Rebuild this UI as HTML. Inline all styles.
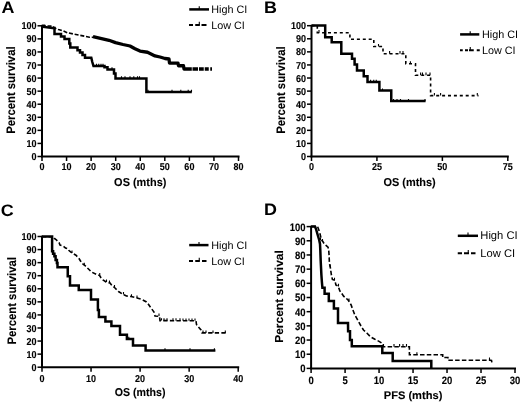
<!DOCTYPE html><html><head><meta charset="utf-8"><style>
html,body{margin:0;padding:0;background:#fff;}svg{display:block;will-change:transform;text-rendering:geometricPrecision;filter:blur(0.35px);}
text{font-family:"Liberation Sans", sans-serif;fill:#000;}
.tk{font-weight:bold;stroke:#000;stroke-width:0.12px;}
.ttl{font-weight:bold;stroke:#000;stroke-width:0.1px;}
.let{font-size:16.6px;font-weight:bold;}
.lg{font-size:10.8px;}
</style></head><body>
<svg width="520" height="402" viewBox="0 0 520 402">
<rect width="520" height="402" fill="#fff"/>
<line x1="42.00" y1="25.00" x2="42.00" y2="157.30" stroke="#000" stroke-width="2.0"/>
<line x1="41.00" y1="156.50" x2="239.50" y2="156.50" stroke="#000" stroke-width="2.0"/>
<line x1="37.50" y1="156.50" x2="42.00" y2="156.50" stroke="#000" stroke-width="1.5"/>
<text transform="translate(36.40,160.10) scale(0.9,1)" text-anchor="end" class="tk" font-size="10">0</text>
<line x1="37.50" y1="143.43" x2="42.00" y2="143.43" stroke="#000" stroke-width="1.5"/>
<text transform="translate(36.40,147.03) scale(0.9,1)" text-anchor="end" class="tk" font-size="10">10</text>
<line x1="37.50" y1="130.36" x2="42.00" y2="130.36" stroke="#000" stroke-width="1.5"/>
<text transform="translate(36.40,133.96) scale(0.9,1)" text-anchor="end" class="tk" font-size="10">20</text>
<line x1="37.50" y1="117.29" x2="42.00" y2="117.29" stroke="#000" stroke-width="1.5"/>
<text transform="translate(36.40,120.89) scale(0.9,1)" text-anchor="end" class="tk" font-size="10">30</text>
<line x1="37.50" y1="104.22" x2="42.00" y2="104.22" stroke="#000" stroke-width="1.5"/>
<text transform="translate(36.40,107.82) scale(0.9,1)" text-anchor="end" class="tk" font-size="10">40</text>
<line x1="37.50" y1="91.15" x2="42.00" y2="91.15" stroke="#000" stroke-width="1.5"/>
<text transform="translate(36.40,94.75) scale(0.9,1)" text-anchor="end" class="tk" font-size="10">50</text>
<line x1="37.50" y1="78.08" x2="42.00" y2="78.08" stroke="#000" stroke-width="1.5"/>
<text transform="translate(36.40,81.68) scale(0.9,1)" text-anchor="end" class="tk" font-size="10">60</text>
<line x1="37.50" y1="65.01" x2="42.00" y2="65.01" stroke="#000" stroke-width="1.5"/>
<text transform="translate(36.40,68.61) scale(0.9,1)" text-anchor="end" class="tk" font-size="10">70</text>
<line x1="37.50" y1="51.94" x2="42.00" y2="51.94" stroke="#000" stroke-width="1.5"/>
<text transform="translate(36.40,55.54) scale(0.9,1)" text-anchor="end" class="tk" font-size="10">80</text>
<line x1="37.50" y1="38.87" x2="42.00" y2="38.87" stroke="#000" stroke-width="1.5"/>
<text transform="translate(36.40,42.47) scale(0.9,1)" text-anchor="end" class="tk" font-size="10">90</text>
<line x1="37.50" y1="25.80" x2="42.00" y2="25.80" stroke="#000" stroke-width="1.5"/>
<text transform="translate(36.40,29.40) scale(0.9,1)" text-anchor="end" class="tk" font-size="10">100</text>
<line x1="42.00" y1="156.50" x2="42.00" y2="161.00" stroke="#000" stroke-width="1.5"/>
<text transform="translate(42.00,170.40) scale(0.9,1)" text-anchor="middle" class="tk" font-size="10">0</text>
<line x1="66.56" y1="156.50" x2="66.56" y2="161.00" stroke="#000" stroke-width="1.5"/>
<text transform="translate(66.56,170.40) scale(0.9,1)" text-anchor="middle" class="tk" font-size="10">10</text>
<line x1="91.12" y1="156.50" x2="91.12" y2="161.00" stroke="#000" stroke-width="1.5"/>
<text transform="translate(91.12,170.40) scale(0.9,1)" text-anchor="middle" class="tk" font-size="10">20</text>
<line x1="115.69" y1="156.50" x2="115.69" y2="161.00" stroke="#000" stroke-width="1.5"/>
<text transform="translate(115.69,170.40) scale(0.9,1)" text-anchor="middle" class="tk" font-size="10">30</text>
<line x1="140.25" y1="156.50" x2="140.25" y2="161.00" stroke="#000" stroke-width="1.5"/>
<text transform="translate(140.25,170.40) scale(0.9,1)" text-anchor="middle" class="tk" font-size="10">40</text>
<line x1="164.81" y1="156.50" x2="164.81" y2="161.00" stroke="#000" stroke-width="1.5"/>
<text transform="translate(164.81,170.40) scale(0.9,1)" text-anchor="middle" class="tk" font-size="10">50</text>
<line x1="189.38" y1="156.50" x2="189.38" y2="161.00" stroke="#000" stroke-width="1.5"/>
<text transform="translate(189.38,170.40) scale(0.9,1)" text-anchor="middle" class="tk" font-size="10">60</text>
<line x1="213.94" y1="156.50" x2="213.94" y2="161.00" stroke="#000" stroke-width="1.5"/>
<text transform="translate(213.94,170.40) scale(0.9,1)" text-anchor="middle" class="tk" font-size="10">70</text>
<line x1="238.50" y1="156.50" x2="238.50" y2="161.00" stroke="#000" stroke-width="1.5"/>
<text transform="translate(238.50,170.40) scale(0.9,1)" text-anchor="middle" class="tk" font-size="10">80</text>
<text transform="translate(1.4,12.8) scale(1.08,1)" class="let">A</text>
<text transform="translate(15.40,90.15) rotate(-90) scale(0.92,1)" text-anchor="middle" class="ttl" font-size="12.3">Percent survival</text>
<text transform="translate(140.25,185.70) scale(0.96,1)" text-anchor="middle" class="ttl" font-size="11.4">OS (mths)</text>
<line x1="189.25" y1="9.4" x2="209" y2="9.4" stroke="#000" stroke-width="2.5"/>
<line x1="199.25" y1="6.2" x2="199.25" y2="9.4" stroke="#000" stroke-width="1.1"/>
<text x="211.2" y="12.90" class="lg" style="font-size:10.8px">High CI</text>
<path d="M189,25H193M195.25,25H199.75M201.5,25H206.5" stroke="#000" stroke-width="1.9" fill="none"/>
<line x1="199.3" y1="21.7" x2="199.3" y2="25.5" stroke="#000" stroke-width="1.1"/>
<text x="211.2" y="28.60" class="lg" style="font-size:10.8px">Low CI</text>
<line x1="311.50" y1="24.90" x2="311.50" y2="157.30" stroke="#000" stroke-width="2.0"/>
<line x1="310.50" y1="156.50" x2="508.80" y2="156.50" stroke="#000" stroke-width="2.0"/>
<line x1="307.00" y1="156.50" x2="311.50" y2="156.50" stroke="#000" stroke-width="1.5"/>
<text transform="translate(305.90,160.10) scale(0.9,1)" text-anchor="end" class="tk" font-size="10">0</text>
<line x1="307.00" y1="143.42" x2="311.50" y2="143.42" stroke="#000" stroke-width="1.5"/>
<text transform="translate(305.90,147.02) scale(0.9,1)" text-anchor="end" class="tk" font-size="10">10</text>
<line x1="307.00" y1="130.34" x2="311.50" y2="130.34" stroke="#000" stroke-width="1.5"/>
<text transform="translate(305.90,133.94) scale(0.9,1)" text-anchor="end" class="tk" font-size="10">20</text>
<line x1="307.00" y1="117.26" x2="311.50" y2="117.26" stroke="#000" stroke-width="1.5"/>
<text transform="translate(305.90,120.86) scale(0.9,1)" text-anchor="end" class="tk" font-size="10">30</text>
<line x1="307.00" y1="104.18" x2="311.50" y2="104.18" stroke="#000" stroke-width="1.5"/>
<text transform="translate(305.90,107.78) scale(0.9,1)" text-anchor="end" class="tk" font-size="10">40</text>
<line x1="307.00" y1="91.10" x2="311.50" y2="91.10" stroke="#000" stroke-width="1.5"/>
<text transform="translate(305.90,94.70) scale(0.9,1)" text-anchor="end" class="tk" font-size="10">50</text>
<line x1="307.00" y1="78.02" x2="311.50" y2="78.02" stroke="#000" stroke-width="1.5"/>
<text transform="translate(305.90,81.62) scale(0.9,1)" text-anchor="end" class="tk" font-size="10">60</text>
<line x1="307.00" y1="64.94" x2="311.50" y2="64.94" stroke="#000" stroke-width="1.5"/>
<text transform="translate(305.90,68.54) scale(0.9,1)" text-anchor="end" class="tk" font-size="10">70</text>
<line x1="307.00" y1="51.86" x2="311.50" y2="51.86" stroke="#000" stroke-width="1.5"/>
<text transform="translate(305.90,55.46) scale(0.9,1)" text-anchor="end" class="tk" font-size="10">80</text>
<line x1="307.00" y1="38.78" x2="311.50" y2="38.78" stroke="#000" stroke-width="1.5"/>
<text transform="translate(305.90,42.38) scale(0.9,1)" text-anchor="end" class="tk" font-size="10">90</text>
<line x1="307.00" y1="25.70" x2="311.50" y2="25.70" stroke="#000" stroke-width="1.5"/>
<text transform="translate(305.90,29.30) scale(0.9,1)" text-anchor="end" class="tk" font-size="10">100</text>
<line x1="311.50" y1="156.50" x2="311.50" y2="161.00" stroke="#000" stroke-width="1.5"/>
<text transform="translate(311.50,170.40) scale(0.9,1)" text-anchor="middle" class="tk" font-size="10">0</text>
<line x1="376.93" y1="156.50" x2="376.93" y2="161.00" stroke="#000" stroke-width="1.5"/>
<text transform="translate(376.93,170.40) scale(0.9,1)" text-anchor="middle" class="tk" font-size="10">25</text>
<line x1="442.37" y1="156.50" x2="442.37" y2="161.00" stroke="#000" stroke-width="1.5"/>
<text transform="translate(442.37,170.40) scale(0.9,1)" text-anchor="middle" class="tk" font-size="10">50</text>
<line x1="507.80" y1="156.50" x2="507.80" y2="161.00" stroke="#000" stroke-width="1.5"/>
<text transform="translate(507.80,170.40) scale(0.9,1)" text-anchor="middle" class="tk" font-size="10">75</text>
<text transform="translate(264,13) scale(1.08,1)" class="let">B</text>
<text transform="translate(285.30,90.10) rotate(-90) scale(0.92,1)" text-anchor="middle" class="ttl" font-size="12.3">Percent survival</text>
<text transform="translate(409.65,185.70) scale(0.96,1)" text-anchor="middle" class="ttl" font-size="11.4">OS (mths)</text>
<line x1="460.1" y1="34.4" x2="479.3" y2="34.4" stroke="#000" stroke-width="2.5"/>
<line x1="470.2" y1="31.2" x2="470.2" y2="34.4" stroke="#000" stroke-width="1.1"/>
<text x="482.0" y="37.90" class="lg" style="font-size:10.8px">High CI</text>
<path d="M460,50.3H462.75M465,50.3H468M469,50.3H473.75M476.75,50.3H479.75" stroke="#000" stroke-width="1.9" fill="none"/>
<line x1="470.25" y1="47.0" x2="470.25" y2="50.8" stroke="#000" stroke-width="1.1"/>
<text x="482.0" y="53.90" class="lg" style="font-size:10.8px">Low CI</text>
<line x1="42.00" y1="235.70" x2="42.00" y2="368.00" stroke="#000" stroke-width="2.0"/>
<line x1="41.00" y1="367.20" x2="239.20" y2="367.20" stroke="#000" stroke-width="2.0"/>
<line x1="37.50" y1="367.20" x2="42.00" y2="367.20" stroke="#000" stroke-width="1.5"/>
<text transform="translate(36.40,370.80) scale(0.9,1)" text-anchor="end" class="tk" font-size="10">0</text>
<line x1="37.50" y1="354.13" x2="42.00" y2="354.13" stroke="#000" stroke-width="1.5"/>
<text transform="translate(36.40,357.73) scale(0.9,1)" text-anchor="end" class="tk" font-size="10">10</text>
<line x1="37.50" y1="341.06" x2="42.00" y2="341.06" stroke="#000" stroke-width="1.5"/>
<text transform="translate(36.40,344.66) scale(0.9,1)" text-anchor="end" class="tk" font-size="10">20</text>
<line x1="37.50" y1="327.99" x2="42.00" y2="327.99" stroke="#000" stroke-width="1.5"/>
<text transform="translate(36.40,331.59) scale(0.9,1)" text-anchor="end" class="tk" font-size="10">30</text>
<line x1="37.50" y1="314.92" x2="42.00" y2="314.92" stroke="#000" stroke-width="1.5"/>
<text transform="translate(36.40,318.52) scale(0.9,1)" text-anchor="end" class="tk" font-size="10">40</text>
<line x1="37.50" y1="301.85" x2="42.00" y2="301.85" stroke="#000" stroke-width="1.5"/>
<text transform="translate(36.40,305.45) scale(0.9,1)" text-anchor="end" class="tk" font-size="10">50</text>
<line x1="37.50" y1="288.78" x2="42.00" y2="288.78" stroke="#000" stroke-width="1.5"/>
<text transform="translate(36.40,292.38) scale(0.9,1)" text-anchor="end" class="tk" font-size="10">60</text>
<line x1="37.50" y1="275.71" x2="42.00" y2="275.71" stroke="#000" stroke-width="1.5"/>
<text transform="translate(36.40,279.31) scale(0.9,1)" text-anchor="end" class="tk" font-size="10">70</text>
<line x1="37.50" y1="262.64" x2="42.00" y2="262.64" stroke="#000" stroke-width="1.5"/>
<text transform="translate(36.40,266.24) scale(0.9,1)" text-anchor="end" class="tk" font-size="10">80</text>
<line x1="37.50" y1="249.57" x2="42.00" y2="249.57" stroke="#000" stroke-width="1.5"/>
<text transform="translate(36.40,253.17) scale(0.9,1)" text-anchor="end" class="tk" font-size="10">90</text>
<line x1="37.50" y1="236.50" x2="42.00" y2="236.50" stroke="#000" stroke-width="1.5"/>
<text transform="translate(36.40,240.10) scale(0.9,1)" text-anchor="end" class="tk" font-size="10">100</text>
<line x1="42.00" y1="367.20" x2="42.00" y2="371.70" stroke="#000" stroke-width="1.5"/>
<text transform="translate(42.00,381.70) scale(0.9,1)" text-anchor="middle" class="tk" font-size="10">0</text>
<line x1="91.05" y1="367.20" x2="91.05" y2="371.70" stroke="#000" stroke-width="1.5"/>
<text transform="translate(91.05,381.70) scale(0.9,1)" text-anchor="middle" class="tk" font-size="10">10</text>
<line x1="140.10" y1="367.20" x2="140.10" y2="371.70" stroke="#000" stroke-width="1.5"/>
<text transform="translate(140.10,381.70) scale(0.9,1)" text-anchor="middle" class="tk" font-size="10">20</text>
<line x1="189.15" y1="367.20" x2="189.15" y2="371.70" stroke="#000" stroke-width="1.5"/>
<text transform="translate(189.15,381.70) scale(0.9,1)" text-anchor="middle" class="tk" font-size="10">30</text>
<line x1="238.20" y1="367.20" x2="238.20" y2="371.70" stroke="#000" stroke-width="1.5"/>
<text transform="translate(238.20,381.70) scale(0.9,1)" text-anchor="middle" class="tk" font-size="10">40</text>
<text transform="translate(0.7,215.9) scale(1.08,1)" class="let">C</text>
<text transform="translate(15.50,300.85) rotate(-90) scale(0.92,1)" text-anchor="middle" class="ttl" font-size="12.3">Percent survival</text>
<text transform="translate(140.10,395.80) scale(0.94,1)" text-anchor="middle" class="ttl" font-size="11.3">OS (mths)</text>
<line x1="189.2" y1="245.1" x2="208.5" y2="245.1" stroke="#000" stroke-width="2.5"/>
<line x1="199" y1="241.9" x2="199" y2="245.1" stroke="#000" stroke-width="1.1"/>
<text x="211.2" y="248.60" class="lg" style="font-size:10.8px">High CI</text>
<path d="M189,261H193M195.25,261H199.75M202,261H206.5" stroke="#000" stroke-width="1.9" fill="none"/>
<line x1="199.25" y1="257.7" x2="199.25" y2="261.5" stroke="#000" stroke-width="1.1"/>
<text x="211.2" y="264.60" class="lg" style="font-size:10.8px">Low CI</text>
<line x1="311.10" y1="225.80" x2="311.10" y2="369.20" stroke="#000" stroke-width="2.0"/>
<line x1="310.10" y1="368.40" x2="516.00" y2="368.40" stroke="#000" stroke-width="2.0"/>
<line x1="306.60" y1="368.40" x2="311.10" y2="368.40" stroke="#000" stroke-width="1.5"/>
<text transform="translate(305.50,372.30) scale(0.88,1)" text-anchor="end" class="tk" font-size="10.8">0</text>
<line x1="306.60" y1="354.22" x2="311.10" y2="354.22" stroke="#000" stroke-width="1.5"/>
<text transform="translate(305.50,358.12) scale(0.88,1)" text-anchor="end" class="tk" font-size="10.8">10</text>
<line x1="306.60" y1="340.04" x2="311.10" y2="340.04" stroke="#000" stroke-width="1.5"/>
<text transform="translate(305.50,343.94) scale(0.88,1)" text-anchor="end" class="tk" font-size="10.8">20</text>
<line x1="306.60" y1="325.86" x2="311.10" y2="325.86" stroke="#000" stroke-width="1.5"/>
<text transform="translate(305.50,329.76) scale(0.88,1)" text-anchor="end" class="tk" font-size="10.8">30</text>
<line x1="306.60" y1="311.68" x2="311.10" y2="311.68" stroke="#000" stroke-width="1.5"/>
<text transform="translate(305.50,315.58) scale(0.88,1)" text-anchor="end" class="tk" font-size="10.8">40</text>
<line x1="306.60" y1="297.50" x2="311.10" y2="297.50" stroke="#000" stroke-width="1.5"/>
<text transform="translate(305.50,301.40) scale(0.88,1)" text-anchor="end" class="tk" font-size="10.8">50</text>
<line x1="306.60" y1="283.32" x2="311.10" y2="283.32" stroke="#000" stroke-width="1.5"/>
<text transform="translate(305.50,287.22) scale(0.88,1)" text-anchor="end" class="tk" font-size="10.8">60</text>
<line x1="306.60" y1="269.14" x2="311.10" y2="269.14" stroke="#000" stroke-width="1.5"/>
<text transform="translate(305.50,273.04) scale(0.88,1)" text-anchor="end" class="tk" font-size="10.8">70</text>
<line x1="306.60" y1="254.96" x2="311.10" y2="254.96" stroke="#000" stroke-width="1.5"/>
<text transform="translate(305.50,258.86) scale(0.88,1)" text-anchor="end" class="tk" font-size="10.8">80</text>
<line x1="306.60" y1="240.78" x2="311.10" y2="240.78" stroke="#000" stroke-width="1.5"/>
<text transform="translate(305.50,244.68) scale(0.88,1)" text-anchor="end" class="tk" font-size="10.8">90</text>
<line x1="306.60" y1="226.60" x2="311.10" y2="226.60" stroke="#000" stroke-width="1.5"/>
<text transform="translate(305.50,230.50) scale(0.88,1)" text-anchor="end" class="tk" font-size="10.8">100</text>
<line x1="311.10" y1="368.40" x2="311.10" y2="372.90" stroke="#000" stroke-width="1.5"/>
<text transform="translate(311.10,383.50) scale(0.88,1)" text-anchor="middle" class="tk" font-size="10.8">0</text>
<line x1="345.08" y1="368.40" x2="345.08" y2="372.90" stroke="#000" stroke-width="1.5"/>
<text transform="translate(345.08,383.50) scale(0.88,1)" text-anchor="middle" class="tk" font-size="10.8">5</text>
<line x1="379.07" y1="368.40" x2="379.07" y2="372.90" stroke="#000" stroke-width="1.5"/>
<text transform="translate(379.07,383.50) scale(0.88,1)" text-anchor="middle" class="tk" font-size="10.8">10</text>
<line x1="413.05" y1="368.40" x2="413.05" y2="372.90" stroke="#000" stroke-width="1.5"/>
<text transform="translate(413.05,383.50) scale(0.88,1)" text-anchor="middle" class="tk" font-size="10.8">15</text>
<line x1="447.03" y1="368.40" x2="447.03" y2="372.90" stroke="#000" stroke-width="1.5"/>
<text transform="translate(447.03,383.50) scale(0.88,1)" text-anchor="middle" class="tk" font-size="10.8">20</text>
<line x1="481.02" y1="368.40" x2="481.02" y2="372.90" stroke="#000" stroke-width="1.5"/>
<text transform="translate(481.02,383.50) scale(0.88,1)" text-anchor="middle" class="tk" font-size="10.8">25</text>
<line x1="515.00" y1="368.40" x2="515.00" y2="372.90" stroke="#000" stroke-width="1.5"/>
<text transform="translate(515.00,383.50) scale(0.88,1)" text-anchor="middle" class="tk" font-size="10.8">30</text>
<text transform="translate(264.1,215) scale(1.08,1)" class="let">D</text>
<text transform="translate(283.40,296.50) rotate(-90) scale(1.035,1)" text-anchor="middle" class="ttl" font-size="11.6">Percent survival</text>
<text transform="translate(413.05,398.80) scale(1.0,1)" text-anchor="middle" class="ttl" font-size="11.1">PFS (mths)</text>
<line x1="457.8" y1="235.8" x2="478" y2="235.8" stroke="#000" stroke-width="2.5"/>
<line x1="468" y1="232.60000000000002" x2="468" y2="235.8" stroke="#000" stroke-width="1.1"/>
<text x="480.3" y="239.30" class="lg" style="font-size:11.2px">High CI</text>
<path d="M457.75,253.25H462M464,253.25H469M471,253.25H475.5" stroke="#000" stroke-width="1.9" fill="none"/>
<line x1="468.25" y1="249.95" x2="468.25" y2="253.75" stroke="#000" stroke-width="1.1"/>
<text x="480.3" y="256.85" class="lg" style="font-size:11.2px">Low CI</text>
<path d="M41.7,25.8 H44 V27 L52.5,28 H54.5 V33.9 H61 V36.6 H64.5 V39.1 H69.3 V43.5 H70.3 V47.5 H77.5 V50.2 H80 V52.5 H82.5 V55 H85 V57.8 H91.3 L92.3,62 L93.5,66 H104.5 V67.3 H107.5 V69.5 H114 V73.5 H115.5 V78.5 H146.4 V92 H191.8" fill="none" stroke="#000" stroke-width="2.5" stroke-linejoin="miter" stroke-linecap="butt"/>
<path d="M311.5,25.6 H325.2 V37.2 H331.7 V42.3 H341.3 V53.75 H352 V58.75 H354.6 V64.4 H357 V70.6 H363.75 V76.25 H367.5 V81.9 H379.4 V90.6 H391.25 V101.1 H425.6" fill="none" stroke="#000" stroke-width="2.5" stroke-linejoin="miter" stroke-linecap="butt"/>
<path d="M42,236.5 H52.1 V251.25 H53.1 V253.75 H54.4 V256.25 H55.6 V260 H56.9 V263.1 H57.5 V267.25 H67.75 V276.25 H70 V285.6 H78.75 V290 H91 V299.5 H97.9 V309.9 H98.9 V316.9 H105.4 V321.5 H111.4 V325.9 H120 V334.7 H126.9 V339 H133 V345.6 H145.6 V350.4 H215.4" fill="none" stroke="#000" stroke-width="2.5" stroke-linejoin="miter" stroke-linecap="butt"/>
<path d="M311.1,226.5 L315,226.5 L316,229 L317,232.5 L318,236 L319.2,240 L320,244 L320.3,250 L320.7,261 L321.4,275 L321.9,282 L322.4,287.8 L324.6,287.8 L324.6,293.8 L328.8,293.8 L328.8,301 L333.9,301 L333.9,308.6 L338,308.6 L338,322.9 L348,322.9 L348.1,331.2 L350,331.2 L350,339.9 L351.8,339.9 L351.8,346.3 L382.3,346.3 L382.3,353.1 L392.7,353.1 L392.7,361.1 L431.3,361.1 L431.3,368.2" fill="none" stroke="#000" stroke-width="2.5" stroke-linejoin="miter" stroke-linecap="butt"/>
<path d="M93,36.6 L109,40.3 L115.5,42.6 L123,44.5 L130,46 L135,48.75 L140,51.1 L147.5,52.25 L150,53.5 L155,55.9 L160,57 L165,58.5 L169,59 L169.5,63.1 L178,63.1 L178.5,65.75 L183.5,65.75 L184,69 L191.8,69" fill="none" stroke="#000" stroke-width="3.3" stroke-linejoin="round" stroke-linecap="butt"/>
<path d="M192.5,69 H198 M199,69 H203.75 M204.75,69 H208.75 M210.25,69 H212" fill="none" stroke="#000" stroke-width="3.3" stroke-linejoin="round" stroke-linecap="butt"/>
<path d="M41.7,25.8 L44,25.8 L53,26.2 L54.5,28 L58.5,29.6 L63.5,31.1 L67.5,32.8 L84.75,36.25 L89.5,37.25 L93,37.3" fill="none" stroke="#000" stroke-width="1.6" stroke-dasharray="4 1.8"/>
<path d="M311.5,25.6 H317.3 V32.7 H349.9 V39.2 H373.8 V46.5 H383 V53.7 H405.8 V63.8 H415.5 V75.2 H430.6 V95.6 H478.5" fill="none" stroke="#000" stroke-width="1.6" stroke-dasharray="3 2.9"/>
<path d="M42,236.75 L54,236.75 L54.5,238.5 L56,239.5 L59,242.5 L60,245 L63.25,246 L65.5,248 L68.25,249 L69,250.5 L72,253 L76,255.25 L79,258.5 L80.5,261 L81.5,263 L85,265.5 L89,269.5 L91.5,272 L96.5,274.5 L99.5,275.5 L101,277.75 L103,280 L106,282 L110,283 L112,285.5 L115,288 L118.5,291.5 L122.5,294 L126.5,296 L131,296.5 L137,298 L142,299.5 L146.5,302 L147.5,303 L151,308 L154,312 L155,316 L159.5,316.3 L160,320.6 L196,320.8 L196.5,324.5 L201,330 L202,332.9 L226.3,332.9" fill="none" stroke="#000" stroke-width="1.6" stroke-dasharray="4.3 2.3"/>
<path d="M311.1,226.5 L317.5,226.5 L318.5,229 L319.5,232 L320.3,235 L321,238 L322,240.5 L323,241.8 L324,243.5 L326,245.3 L328,247.2 L328.6,249 L329,254 L329.2,258 L329.4,263 L330.4,268 L331.4,275 L332.4,279.4 L334.9,280.4 L335.9,284.9 L338.3,286.4 L339.8,290.8 L341.3,292.8 L343.6,296.2 L348,299.9 L351.1,304.9 L352.9,309.9 L354.8,314.9 L358.5,321.5 L361,326 L363.5,330 L366.8,333 L370.5,336.8 L374.9,339.3 L378.6,341.1 L382.5,343.6 L383,346.7 L409.4,346.7 L409.4,354.8 L442.7,354.8 L442.7,357.5 L447.9,357.5 L447.9,360.2 L490.5,360.2 L491.5,360.5 L492.3,364.5" fill="none" stroke="#000" stroke-width="1.6" stroke-dasharray="4.5 2.25"/>
<path d="M96.5,66V63.8M98.75,66V63.8M101,66V63.8M103,66V63.8M112,69.5V67.3M121.5,78.5V76.3M125,78.5V76.3M130,78.5V76.3M133.8,78.5V76.3M137.5,78.5V76.3M139.5,78.5V76.3M148,92V89.8M172,92V89.8M180.8,92V89.8M188.2,92V89.8M191.5,92V89.8" fill="none" stroke="#000" stroke-width="1.1"/>
<path d="M370.6,81.9V79.7M373.75,81.9V79.7M376.25,81.9V79.7M382.5,90.6V88.39999999999999M393.5,101.1V98.89999999999999M397,101.1V98.89999999999999M400.5,101.1V98.89999999999999M408.5,101.1V98.89999999999999M425,101.1V98.89999999999999" fill="none" stroke="#000" stroke-width="1.1"/>
<path d="M319,32.7V30.1M378.5,46.5V43.9M389.6,53.7V51.1M400,53.7V51.1M403,53.7V51.1M410.4,63.8V61.199999999999996M420.6,75.2V72.60000000000001M422.5,75.2V72.60000000000001M426,75.2V72.60000000000001M430,75.2V72.60000000000001M434.4,95.6V93.0M440.6,95.6V93.0M477.3,95.6V93.0" fill="none" stroke="#000" stroke-width="1.1"/>
<path d="M128.8,339V336.8M165,350.4V348.2M190,350.4V348.2M214.4,350.4V348.2" fill="none" stroke="#000" stroke-width="1.1"/>
<path d="M72,253V250.6M84.3,265.2V262.8M99.75,275.5V273.1M106.5,282V279.6M109.5,282.8V280.40000000000003M114.5,287.5V285.1M123.5,294.5V292.1M131.5,296.6V294.20000000000005M137,298V295.6M159,316V313.6M161.5,320.6V318.20000000000005M164,320.7V318.3M167,320.7V318.3M173,320.7V318.3M176,320.7V318.3M180,320.7V318.3M183,320.8V318.40000000000003M186,320.8V318.40000000000003M189,320.8V318.40000000000003M192,320.8V318.40000000000003M195,320.8V318.40000000000003M203,332.9V330.5M206,332.9V330.5M213,332.9V330.5M225.3,332.9V330.5" fill="none" stroke="#000" stroke-width="1.1"/>
<path d="M320.5,240V237.4M322.5,241.5V238.9M330.2,267V264.4M334.5,280.4V277.79999999999995M338.5,286.4V283.79999999999995M349,301V298.4M383.5,346.7V344.09999999999997M394,346.7V344.09999999999997M399.6,346.7V344.09999999999997M403,346.7V344.09999999999997M406.5,346.7V344.09999999999997M416.9,354.8V352.2M489.5,360.2V357.59999999999997" fill="none" stroke="#000" stroke-width="1.1"/>
</svg></body></html>
